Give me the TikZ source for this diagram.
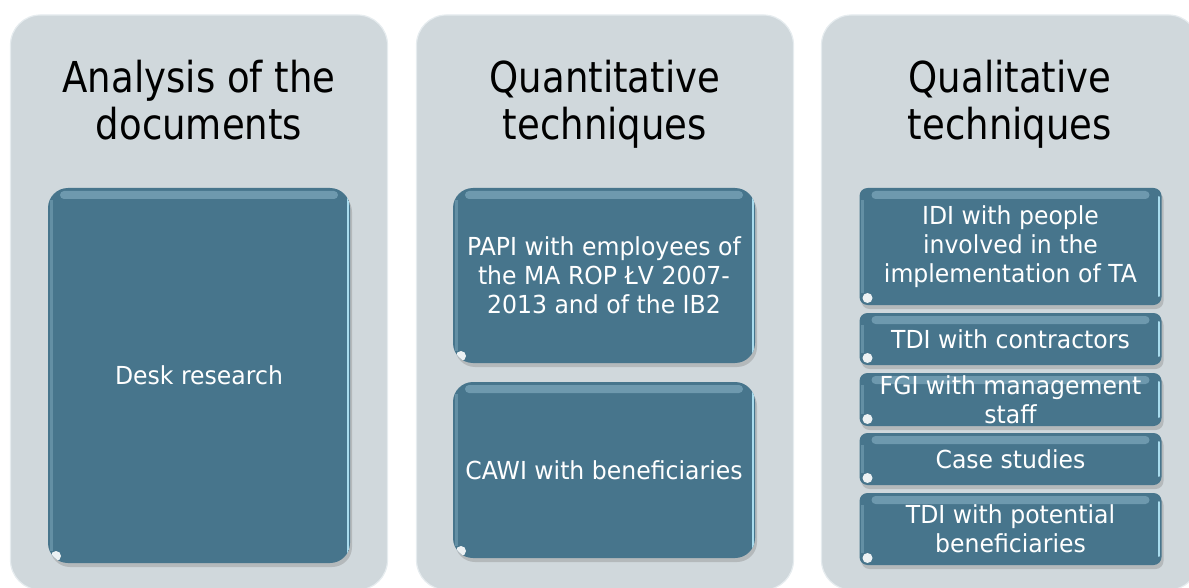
\documentclass[tikz,border=0pt]{standalone}
\usepackage{fontspec}
\newfontfamily\titlefont[FakeStretch=0.87]{DejaVu Sans}
\newfontfamily\boxfont[FakeStretch=0.95]{DejaVu Sans}
\usetikzlibrary{shadows}
\definecolor{panelgray}{HTML}{D0D8DC}
\definecolor{panelrim}{HTML}{E6ECEF}
\definecolor{techblue}{HTML}{47758C}
\definecolor{techlight}{HTML}{7FA9BD}
\definecolor{techrim}{HTML}{A9DCEE}

\begin{document}
\begin{tikzpicture}[
    x = 1pt, y = -1pt,
    panel/.style = {
        rectangle,
        rounded corners = 30pt,
        fill = panelgray,
        draw = panelrim,
        line width = 1.2pt,
        inner sep = 0pt,
        minimum width = 377pt,
        minimum height = 575pt
    },
    heading/.style = {
        align = center,
        inner sep = 0pt,
        font = \titlefont\fontsize{42.6}{47}\selectfont
    },
    techbox/.style = {
        rectangle,
        rounded corners = 8pt,
        fill = techblue,
        text = white,
        align = center,
        inner sep = 0pt,
        minimum width = 302pt,
        font = \boxfont\fontsize{24.8}{29}\selectfont,
        drop shadow = {shadow xshift = 2pt, shadow yshift = -4pt, opacity = 0.35},
        path picture = {
            \fill[techlight, opacity = 0.7, rounded corners = 4pt]
                ([xshift = 12pt, yshift = -3pt]path picture bounding box.north west) rectangle
                ([xshift = -12pt, yshift = -11pt]path picture bounding box.north east);
            \draw[techrim, line width = 2pt, line cap = round]
                ([xshift = -2.5pt, yshift = -9pt]path picture bounding box.north east) --
                ([xshift = -2.5pt, yshift = 9pt]path picture bounding box.south east);
            \draw[techlight, line width = 3pt, opacity = 0.5]
                ([xshift = 3pt, yshift = -12pt]path picture bounding box.north west) --
                ([xshift = 3pt, yshift = 12pt]path picture bounding box.south west);
            \fill[white, opacity = 0.9]
                ([xshift = 8pt, yshift = 7pt]path picture bounding box.south west) circle (5pt);
        }
    }
]

\useasboundingbox (0, 0) rectangle (1189, 588);
\clip (0, 0) rectangle (1189, 588);

% Panels
\node[panel] (docs) at (199, 302.5) {};
\node[panel] (quant) at (605, 302.5) {};
\node[panel] (qual) at (1010, 302.5) {};

% Headings
\node[heading] (docstitle) at (199, 107) {\strut Analysis of the\\\strut documents};
\node[heading] (quanttitle) at (605, 107) {\strut Quantitative\\\strut techniques};
\node[heading] (qualtitle) at (1010, 107) {\strut Qualitative\\\strut techniques};

% Analysis of the documents
\node[techbox, rounded corners = 20pt, minimum height = 375pt] (desk) at (199, 375.5) {Desk research};

% Quantitative techniques
\node[techbox, rounded corners = 20pt, minimum height = 175pt] (papi) at (604, 275.5)
    {PAPI with employees of\\the MA ROP ŁV 2007-\\2013 and of the IB2};
\node[techbox, rounded corners = 20pt, minimum height = 176pt] (cawi) at (604, 470) {CAWI with beneficiaries};

% Qualitative techniques
\foreach \y / \h / \name / \label in {
    246.5/117/idi/{IDI with people\\involved in the\\implementation of TA},
    339/52/tdicon/{TDI with contractors},
    399.5/53/fgi/{FGI with management\\staff},
    459/52/cases/{Case studies},
    529/72/tdipot/{TDI with potential\\beneficiaries}} {
    \node[techbox, minimum height = \h pt] (\name) at (1010.5, \y) {\label};
}

\end{tikzpicture}
\end{document}
